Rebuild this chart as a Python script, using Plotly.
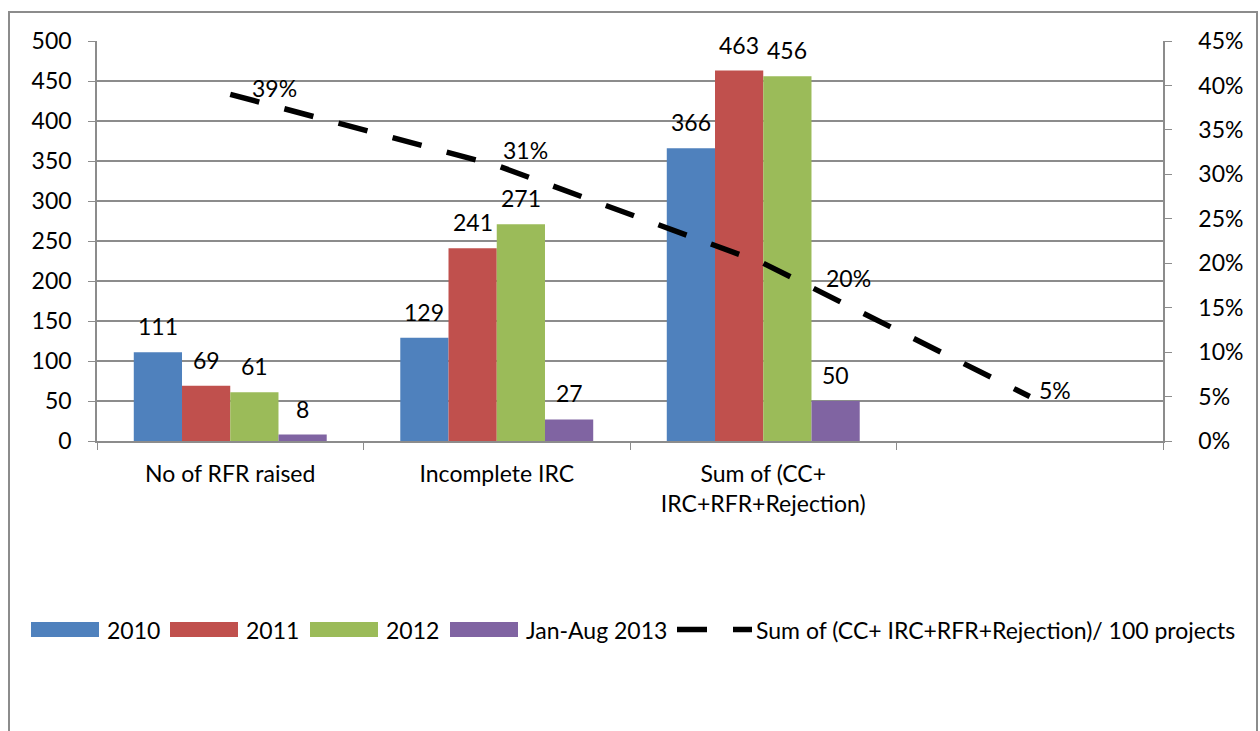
import plotly.graph_objects as go

# Data
categories = ["No of RFR raised", "Incomplete IRC", "Sum of (CC+<br>IRC+RFR+Rejection)", "\u200b"]
bar_categories = categories[:3]
series_names = ["2010", "2011", "2012", "Jan-Aug 2013"]
values_2010 = [111, 129, 366]
values_2011 = [69, 241, 463]
values_2012 = [61, 271, 456]
values_2013 = [8, 27, 50]
ratio_name = "Sum of (CC+ IRC+RFR+Rejection)/ 100 projects"
ratio_values = [0.39, 0.31, 0.20, 0.05]

# Styling
colors = ["#4F81BD", "#C0504D", "#9BBB59", "#8064A2"]
ratio_label_shift = [(20, 6), (4, 15), (61, -15), (7, 7)]
FONT = "Lato, 'Open Sans', sans-serif"
FS = 23
GRID = "#8C8C8C"
BARGAP = 0.276
W, H = 1260, 731
ML, MR, MT, MB = 97, 97, 41, 290
PW, PH = W - ML - MR, H - MT - MB

# legend layout (pixel positions along the row below the chart)
LEG_Y = 629.5
LEG_SWATCH_LEFT = [31, 170, 310, 450]
LEG_SWATCH_W, LEG_SWATCH_H = 68, 15
LEG_LINE_X = (677, 752)
LEG_TEXT_GAP = 6


def px_x(px):
    return (px - ML) / PW


def px_y(py):
    return (H - MB - py) / PH


fig = go.Figure()

bar_series = [values_2010, values_2011, values_2012, values_2013]
for name, vals, col in zip(series_names, bar_series, colors):
    fig.add_trace(go.Bar(
        x=bar_categories, y=vals, name=name,
        marker=dict(color=col, line=dict(width=0)),
        yaxis="y",
    ))

DASH = "30px,26px"
fig.add_trace(go.Scatter(
    x=categories, y=ratio_values, name=ratio_name, yaxis="y2",
    mode="lines",
    line=dict(color="black", width=5.5, dash=DASH),
))

text_font = dict(family=FONT, size=FS, color="black")
annotations = []
shapes = []

# value labels above the bars
n = len(bar_series)
group_w = 1 - BARGAP
bar_w = group_w / n
for si, vals in enumerate(bar_series):
    offset = -group_w / 2 + bar_w * (si + 0.5)
    for ci, v in enumerate(vals):
        annotations.append(dict(
            x=ci + offset, y=v, xref="x", yref="y", text=str(v),
            showarrow=False, yanchor="bottom", xanchor="center", yshift=10,
            font=text_font,
        ))

# percentage labels on the line
for ci, (v, (dx, dy)) in enumerate(zip(ratio_values, ratio_label_shift)):
    annotations.append(dict(
        x=ci, y=v, xref="x", yref="y2", text=f"{round(v * 100)}%",
        showarrow=False, xanchor="left", yanchor="middle",
        xshift=dx, yshift=dy, font=text_font,
    ))

# legend row
for name, col, left in zip(series_names, colors, LEG_SWATCH_LEFT):
    shapes.append(dict(
        type="rect", xref="paper", yref="paper",
        x0=px_x(left), x1=px_x(left + LEG_SWATCH_W),
        y0=px_y(LEG_Y - LEG_SWATCH_H / 2), y1=px_y(LEG_Y + LEG_SWATCH_H / 2),
        fillcolor=col, line=dict(width=0),
    ))
    annotations.append(dict(
        x=px_x(left + LEG_SWATCH_W + LEG_TEXT_GAP), y=px_y(LEG_Y),
        xref="paper", yref="paper", text=name, showarrow=False,
        xanchor="left", yanchor="middle", font=text_font,
    ))
shapes.append(dict(
    type="line", xref="paper", yref="paper",
    x0=px_x(LEG_LINE_X[0]), x1=px_x(LEG_LINE_X[1]),
    y0=px_y(LEG_Y), y1=px_y(LEG_Y),
    line=dict(color="black", width=5.5, dash=DASH),
))
annotations.append(dict(
    x=px_x(LEG_LINE_X[1] + 2), y=px_y(LEG_Y),
    xref="paper", yref="paper", text=ratio_name, showarrow=False,
    xanchor="left", yanchor="middle", font=text_font,
))

# outer chart frame
shapes.append(dict(
    type="rect", xref="paper", yref="paper",
    x0=px_x(9), x1=px_x(1257), y0=px_y(745), y1=px_y(12),
    line=dict(color="#8C8C8C", width=2), fillcolor="rgba(0,0,0,0)",
    layer="below",
))

axis_common = dict(
    ticks="outside", ticklen=7, tickcolor=GRID, tickwidth=1,
    showline=True, linecolor=GRID, linewidth=1.5,
    tickfont=text_font, zeroline=False,
)

fig.update_layout(
    width=W, height=H,
    margin=dict(l=ML, r=MR, t=MT, b=MB),
    paper_bgcolor="white", plot_bgcolor="white",
    font=text_font,
    barmode="group", bargap=BARGAP, bargroupgap=0,
    showlegend=False,
    xaxis=dict(
        type="category", categoryorder="array", categoryarray=categories,
        range=[-0.5, 3.5], tickson="boundaries",
        showgrid=False, ticklabelstandoff=12, **axis_common,
    ),
    yaxis=dict(
        range=[0, 500], dtick=50, showgrid=True, gridcolor=GRID, gridwidth=1.5,
        ticklabelstandoff=12, **axis_common,
    ),
    yaxis2=dict(
        overlaying="y", side="right", range=[0, 0.45], dtick=0.05,
        tickformat=".0%", showgrid=False, ticklabelstandoff=22,
        **axis_common,
    ),
    annotations=annotations,
    shapes=shapes,
)

fig.write_html("out.html")
